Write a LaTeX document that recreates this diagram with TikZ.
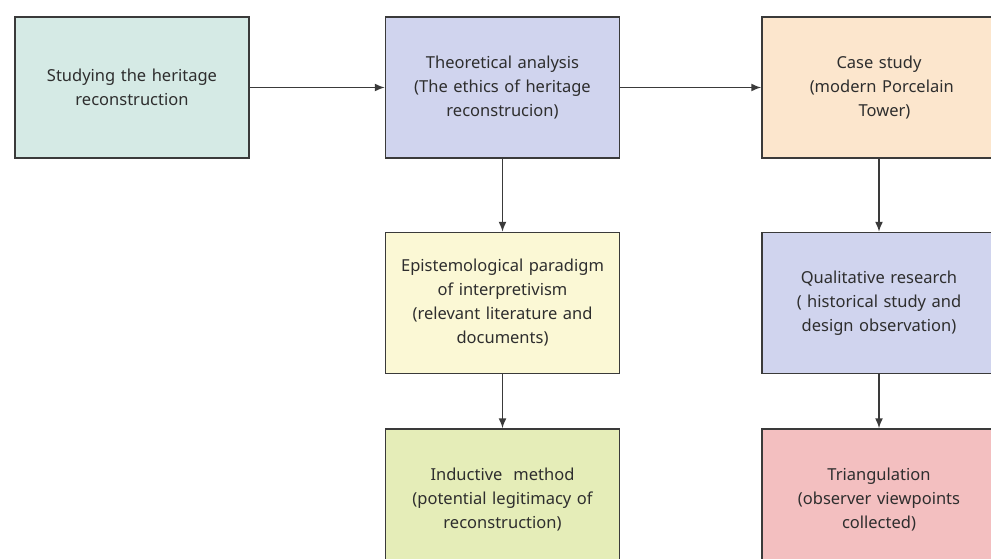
\documentclass[tikz,border=0pt]{standalone}
\usepackage{fontspec}
\setmainfont{Noto Sans}
\usetikzlibrary{shapes,arrows.meta,positioning}
\definecolor{edgegray}{HTML}{3A3A3A}
\definecolor{textgray}{HTML}{2E2E2E}
\definecolor{tealbox}{HTML}{D5EAE5}
\definecolor{lilacbox}{HTML}{D0D4EE}
\definecolor{peachbox}{HTML}{FCE6CD}
\definecolor{creambox}{HTML}{FBF8D5}
\definecolor{limebox}{HTML}{E5EDB8}
\definecolor{pinkbox}{HTML}{F3BFC0}
\tikzstyle{block} = [rectangle, draw=edgegray, line width=1.5pt, text=textgray,
    text width=225pt, align=center, minimum width=234pt, minimum height=141pt,
    inner sep=2pt, font=\fontsize{16.5}{24}\selectfont]
\tikzstyle{line} = [draw, edgegray, line width=1.5pt, -{Latex[length=10pt,width=8pt]}]
\begin{document}
\begin{tikzpicture}
	\useasboundingbox (0,0) rectangle (991pt,-559pt);
	
		\node [block, fill=tealbox] (study) at (132pt,-87.5pt) {Studying the heritage\\reconstruction};
		\node [block, fill=lilacbox, right=135pt of study] (theory) {Theoretical analysis\\(The ethics of heritage\\reconstrucion)};
		\node [block, fill=peachbox, right=141pt of theory] (case) {Case study\\\ (modern Porcelain\\\ \ Tower)};
		
		\node [block, fill=creambox, below=73pt of theory] (paradigm) {Epistemological paradigm\\of interpretivism\\(relevant literature and\\documents)};
		\node [block, fill=limebox, below=54pt of paradigm] (induct) {Inductive\ \ method\\(potential legitimacy of\\reconstruction)};
		
		\node [block, fill=lilacbox, below=73pt of case] (quali) {Qualitative research\\(\ historical study and\\design observation)};
		\node [block, fill=pinkbox, below=54pt of quali] (triang) {Triangulation\\(observer viewpoints\\collected)};
		
		\path [line] (study) -- (theory);
		\path [line] (theory) -- (case);
		\path [line] (theory) -- (paradigm);
		\path [line] (paradigm) -- (induct);
		\path [line] (case) -- (quali);
		\path [line] (quali) -- (triang);
	\end{tikzpicture}
\end{document}
